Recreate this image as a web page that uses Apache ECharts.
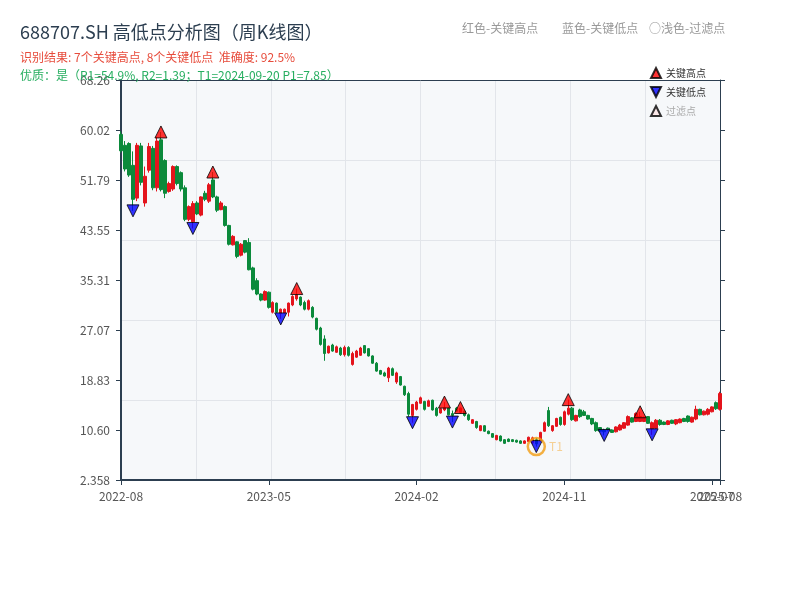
<!DOCTYPE html>
<html>
<head>
<meta charset="utf-8">
<script src="https://cdn.jsdelivr.net/npm/echarts@6/dist/echarts.min.js"></script>
<style>html,body{margin:0;padding:0;background:#fff;}#chart{width:800px;height:600px;}</style>
</head>
<body>
<div id="chart"></div>
<script>
// Weekly bars (dated by last trading day of each week)
const weekDates = [
'2022-08-26','2022-09-02','2022-09-09','2022-09-16','2022-09-23','2022-09-30',
'2022-10-14','2022-10-21','2022-10-28','2022-11-04','2022-11-11','2022-11-18','2022-11-25',
'2022-12-02','2022-12-09','2022-12-16','2022-12-23','2022-12-30',
'2023-01-06','2023-01-13','2023-01-20','2023-02-03','2023-02-10','2023-02-17','2023-02-24',
'2023-03-03','2023-03-10','2023-03-17','2023-03-24','2023-03-31',
'2023-04-07','2023-04-14','2023-04-21','2023-04-28',
'2023-05-05','2023-05-12','2023-05-19','2023-05-26',
'2023-06-02','2023-06-09','2023-06-16','2023-06-21','2023-06-30',
'2023-07-07','2023-07-14','2023-07-21','2023-07-28',
'2023-08-04','2023-08-11','2023-08-18','2023-08-25',
'2023-09-01','2023-09-08','2023-09-15','2023-09-22','2023-09-28',
'2023-10-13','2023-10-20','2023-10-27',
'2023-11-03','2023-11-10','2023-11-17','2023-11-24',
'2023-12-01','2023-12-08','2023-12-15','2023-12-22','2023-12-29',
'2024-01-05','2024-01-12','2024-01-19','2024-01-26',
'2024-02-02','2024-02-08','2024-02-23',
'2024-03-01','2024-03-08','2024-03-15','2024-03-22','2024-03-29',
'2024-04-03','2024-04-12','2024-04-19','2024-04-26','2024-04-30',
'2024-05-10','2024-05-17','2024-05-24','2024-05-31',
'2024-06-07','2024-06-14','2024-06-21','2024-06-28',
'2024-07-05','2024-07-12','2024-07-19','2024-07-26',
'2024-08-02','2024-08-09','2024-08-16','2024-08-23','2024-08-30',
'2024-09-06','2024-09-13','2024-09-20','2024-09-27','2024-09-30',
'2024-10-11','2024-10-18','2024-10-25',
'2024-11-01','2024-11-08','2024-11-15','2024-11-22','2024-11-29',
'2024-12-06','2024-12-13','2024-12-20','2024-12-27',
'2025-01-03','2025-01-10','2025-01-17','2025-01-24','2025-01-27',
'2025-02-07','2025-02-14','2025-02-21','2025-02-28',
'2025-03-07','2025-03-14','2025-03-21','2025-03-28',
'2025-04-03','2025-04-11','2025-04-18','2025-04-25','2025-04-30',
'2025-05-09','2025-05-16','2025-05-23','2025-05-30',
'2025-06-06','2025-06-13','2025-06-20','2025-06-27',
'2025-07-04','2025-07-11','2025-07-18','2025-07-25',
'2025-08-01','2025-08-08'
];

const openP = [
59.3,57.5,57.8,54.2,48.8,57.4,48.0,53.4,57.0,50.5,
58.4,55.0,49.9,50.3,54.0,53.0,50.5,45.3,44.9,48.0,
46.0,49.6,48.3,51.8,49.0,46.9,47.4,44.3,41.1,41.6,
39.4,41.8,41.5,37.3,35.2,33.0,32.0,33.3,30.0,31.5,
29.8,29.9,30.0,31.2,32.2,32.5,31.6,30.5,30.8,29.0,
27.4,25.6,23.3,24.6,23.4,24.1,23.0,24.2,21.4,22.6,
22.9,24.5,24.0,22.8,21.6,20.4,20.0,19.2,20.7,18.5,
19.4,17.8,16.6,13.0,14.0,15.0,15.3,14.5,15.5,14.2,
13.4,13.9,14.2,13.3,14.2,13.5,13.7,13.1,11.7,12.0,
10.5,11.3,10.4,10.0,9.0,9.6,9.0,9.1,9.0,8.9,
8.8,8.4,8.7,8.5,9.0,8.8,10.4,13.8,10.5,11.2,
12.7,11.5,13.2,14.2,12.1,13.9,13.6,13.0,12.5,11.8,
11.0,10.6,10.9,10.6,10.3,10.6,10.9,11.4,12.6,12.0,
12.0,12.0,12.8,10.8,10.9,12.2,11.9,11.5,12.2,11.6,
11.8,12.5,12.9,11.9,12.4,14.0,13.1,13.2,13.6,15.1,14.0
];
const closeP = [
56.6,53.6,52.6,48.6,57.5,51.4,52.4,57.3,50.5,58.2,
50.2,49.6,51.2,54.0,51.2,50.3,45.3,47.4,47.9,46.2,
49.0,48.6,51.0,49.0,46.8,48.0,44.3,41.2,42.5,39.2,
41.2,39.9,37.0,33.8,33.0,32.0,33.4,30.8,31.6,30.0,
30.5,30.5,31.5,32.6,32.9,31.2,30.5,31.9,29.2,27.2,
24.7,23.2,24.4,23.6,24.3,23.0,24.2,22.9,23.2,23.6,
24.1,23.3,22.8,21.6,20.3,19.8,19.5,20.8,19.6,20.0,
18.0,16.4,13.2,14.8,15.2,15.9,14.0,15.4,13.9,13.0,
14.1,14.3,13.1,13.0,13.7,14.2,13.0,12.3,12.3,11.0,
11.3,10.4,10.0,9.4,9.7,8.8,8.4,8.7,8.7,8.6,
8.4,8.8,9.4,9.3,8.3,10.2,11.8,11.3,11.3,12.5,
11.5,13.6,14.2,12.3,13.0,12.8,13.0,12.4,11.6,10.5,
10.4,10.3,10.6,10.2,11.1,11.4,11.8,12.8,11.9,13.3,
12.8,12.7,11.7,11.8,12.2,11.5,11.5,12.1,11.7,12.3,
12.4,12.0,12.0,12.7,14.0,13.1,13.7,14.0,14.4,14.1,16.6
];
const lowP = [
56.3,53.2,52.3,46.7,48.3,50.9,47.4,53.0,50.1,49.9,
49.9,48.8,49.7,50.0,50.9,49.9,45.0,45.0,43.8,46.0,
45.8,48.3,48.0,48.8,46.5,46.8,44.1,41.0,41.0,38.9,
39.2,39.7,36.9,33.6,32.8,31.8,31.9,30.6,29.8,29.8,
28.9,29.8,29.3,31.0,31.9,31.0,30.3,30.3,29.0,27.0,
24.5,22.0,23.2,23.5,23.3,22.8,22.7,22.7,21.2,22.5,
22.8,23.2,22.7,21.5,20.2,19.7,19.4,18.5,19.5,18.2,
17.9,16.2,12.8,11.8,13.8,14.9,13.8,14.4,13.8,12.8,
13.3,13.7,13.0,11.9,13.6,13.3,12.8,12.1,11.6,10.8,
10.4,10.3,9.9,9.3,8.9,8.7,8.3,8.6,8.6,8.5,
8.3,8.3,8.6,8.2,7.86,8.7,10.3,11.1,10.3,11.1,
11.3,11.3,13.0,12.1,12.0,12.6,12.9,12.3,11.4,10.3,
10.3,9.7,10.5,10.1,10.2,10.5,10.8,11.3,11.8,11.9,
11.9,11.9,11.6,9.8,10.8,11.3,11.4,11.4,11.6,11.4,
11.7,11.9,11.8,11.8,12.2,13.0,13.0,13.0,13.5,13.9,13.8
];
const highP = [
59.8,58.2,58.0,56.5,57.9,57.9,54.0,57.9,57.4,58.9,
59.7,55.2,51.5,54.2,54.2,53.2,50.9,47.6,48.3,48.3,
49.1,50.0,51.3,53.1,49.2,48.3,47.6,44.4,42.7,41.7,
41.4,41.9,42.2,37.5,35.6,33.1,33.6,33.4,31.8,31.6,
30.6,30.6,31.6,32.8,33.9,32.6,31.9,32.1,31.0,29.1,
27.6,26.2,24.5,24.8,24.5,24.3,24.5,24.4,23.5,23.8,
24.3,24.6,24.1,22.9,21.8,20.5,20.2,21.0,20.9,20.2,
19.5,17.9,16.9,14.9,15.4,16.1,15.4,15.6,15.6,14.4,
14.2,15.2,14.4,13.8,14.4,14.3,13.8,13.3,12.4,12.1,
11.4,11.4,10.5,10.1,9.8,9.7,9.1,9.2,9.1,9.0,
8.9,8.9,9.5,9.5,9.3,10.3,12.0,14.4,11.4,12.6,
12.8,13.8,15.6,14.4,13.1,14.1,13.9,13.1,12.6,12.0,
11.0,10.8,11.0,10.7,11.2,11.6,11.9,13.0,12.7,13.5,
13.6,12.8,12.9,12.0,12.4,12.4,12.0,12.2,12.3,12.4,
12.5,12.6,13.0,12.8,14.6,14.1,13.8,14.2,14.5,15.3,16.9
];

// Key point indices (into weekDates)
const keyHighIdx = [10, 23, 44, 81, 85, 112, 130];
const keyLowIdx = [3, 18, 40, 73, 83, 104, 121, 133];
const filteredIdx = [];
const t1Idx = 104;

// Axis tick values
const yTickValues = [2.358, 10.596, 18.834, 27.072, 35.310, 43.548, 51.786, 60.024, 68.262];
const xLabelStep = 37;

const candleData = weekDates.map((d, i) => [openP[i], closeP[i], lowP[i], highP[i]]);
const highPts = keyHighIdx.map(i => [weekDates[i], highP[i]]);
const lowPts = keyLowIdx.map(i => [weekDates[i], lowP[i]]);
const filtPts = filteredIdx.map(i => [weekDates[i], highP[i]]);
const t1Pts = [[weekDates[t1Idx], lowP[t1Idx]]];

const lastIdx = weekDates.length - 1;
const showX = (idx) => idx % xLabelStep === 0;
const showLast = (idx) => idx === lastIdx;
const axisDark = '#2c3e50';
const gridLine = '#e2e5ea';
const FONT = 'Noto Sans CJK SC, sans-serif';
const xLabelStyle = {formatter: (v) => v.slice(0, 7), color: '#555', fontSize: 12, fontFamily: FONT, margin: 10};

const chart = echarts.init(document.getElementById('chart'), null, {renderer: 'canvas'});
chart.setOption({
  animation: false,
  backgroundColor: '#ffffff',
  textStyle: {fontFamily: FONT},
  title: [
    {text: '688707.SH 高低点分析图（周K线图）', left: 20, top: 23, padding: 0,
     textStyle: {fontSize: 18, fontWeight: 'normal', color: '#2c3e50', fontFamily: FONT}},
    {text: '识别结果: 7个关键高点, 8个关键低点  准确度: 92.5%', left: 20, top: 51, padding: 0,
     textStyle: {fontSize: 12, fontWeight: 'normal', color: '#e74c3c', fontFamily: FONT}},
    {text: '优质：是（R1=54.9%, R2=1.39；T1=2024-09-20 P1=7.85）', left: 20, top: 69, padding: 0,
     textStyle: {fontSize: 12, fontWeight: 'normal', color: '#27ae60', fontFamily: FONT}}
  ],
  graphic: [
    {type: 'text', left: 462, top: 22, style: {text: '红色-关键高点', fill: '#999', font: '12px ' + FONT}},
    {type: 'text', left: 562, top: 22, style: {text: '蓝色-关键低点', fill: '#999', font: '12px ' + FONT}},
    {type: 'text', left: 649, top: 22, style: {text: '○浅色-过滤点', fill: '#999', font: '12px ' + FONT}}
  ],
  legend: {
    orient: 'vertical', left: 645, top: 62, itemWidth: 10, itemHeight: 10, itemGap: 7, padding: 5,
    textStyle: {fontSize: 10, color: '#333', fontFamily: FONT},
    data: [{name: '关键高点'}, {name: '关键低点'}, {name: '过滤点', textStyle: {color: '#aaa'}}]
  },
  grid: {left: 121, right: 80, top: 80, bottom: 120, show: true, backgroundColor: '#f6f8fa', borderWidth: 0},
  xAxis: [
    {type: 'category', data: weekDates, boundaryGap: false, position: 'bottom',
     axisLine: {lineStyle: {color: axisDark, width: 2}},
     axisTick: {interval: (i) => showX(i), length: 5, lineStyle: {color: axisDark}},
     axisLabel: Object.assign({interval: (i) => showX(i)}, xLabelStyle),
     splitLine: {show: false}},
    {type: 'value', position: 'top', min: 0, max: 8, interval: 1,
     axisLine: {show: true, lineStyle: {color: axisDark, width: 1}},
     axisTick: {show: false}, axisLabel: {show: false},
     splitLine: {show: true, lineStyle: {color: gridLine, width: 1}}},
    {type: 'category', data: weekDates, boundaryGap: false, position: 'bottom', offset: 0,
     axisLine: {show: false},
     axisTick: {show: true, interval: (i) => showLast(i), length: 5, lineStyle: {color: axisDark}},
     axisLabel: Object.assign({interval: (i) => showLast(i)}, xLabelStyle),
     splitLine: {show: false}}
  ],
  yAxis: [
    {type: 'value', position: 'left', min: yTickValues[0], max: yTickValues[yTickValues.length - 1],
     axisLine: {show: true, lineStyle: {color: axisDark, width: 2}},
     axisTick: {show: true, length: 5, customValues: yTickValues, lineStyle: {color: axisDark}},
     axisLabel: {customValues: yTickValues, margin: 11, formatter: (v) => Number(v).toPrecision(4), color: '#555', fontSize: 12, fontFamily: FONT},
     splitLine: {show: false}},
    {type: 'value', position: 'right', min: yTickValues[0], max: yTickValues[yTickValues.length - 1],
     axisLine: {show: true, lineStyle: {color: axisDark, width: 1}},
     axisTick: {show: true, length: 5, customValues: yTickValues, lineStyle: {color: axisDark}},
     axisLabel: {show: false}, splitLine: {show: false}},
    {type: 'value', position: 'right', min: 0, max: 5, interval: 1,
     axisLine: {show: false}, axisTick: {show: false}, axisLabel: {show: false},
     splitLine: {show: true, lineStyle: {color: gridLine, width: 1}}}
  ],
  series: [
    {type: 'candlestick', name: '周K', data: candleData, xAxisIndex: 0, yAxisIndex: 0,
     barWidth: 3, clip: false,
     itemStyle: {color: '#e4141c', color0: '#0b8a3b', borderColor: '#e4141c', borderColor0: '#0b8a3b', borderWidth: 1}},
    {type: 'scatter', name: '过滤点', data: filtPts, symbol: 'triangle', symbolSize: 10, z: 4,
     itemStyle: {color: '#fde4e4', borderColor: '#000', borderWidth: 1}},
    {type: 'scatter', name: 'T1', data: t1Pts, symbol: 'circle', symbolSize: 17, z: 6,
     itemStyle: {color: 'rgba(0,0,0,0)', borderColor: '#f39c12', borderWidth: 2.5},
     label: {show: true, position: 'right', distance: 3, formatter: 'T1', color: 'rgba(243,156,18,0.55)', fontSize: 12, fontFamily: FONT}},
    {type: 'scatter', name: '关键高点', data: highPts, symbol: 'triangle', symbolSize: 12, z: 5,
     itemStyle: {color: '#ff0000', borderColor: '#000', borderWidth: 1}},
    {type: 'scatter', name: '关键低点', data: lowPts, symbol: 'path://M0,0L10,0L5,10Z', symbolSize: 12, z: 5,
     itemStyle: {color: '#0000ff', borderColor: '#000', borderWidth: 1}}
  ]
});
</script>
</body>
</html>
